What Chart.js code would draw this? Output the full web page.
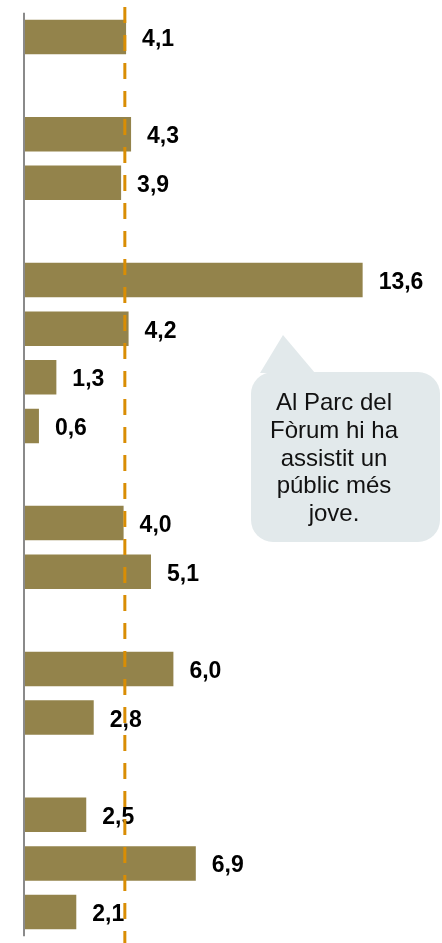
<!DOCTYPE html>
<html lang="ca">
<head>
    <meta charset="UTF-8">
    <title>Públic per edat</title>
    <script src="https://cdn.jsdelivr.net/npm/chart.js"></script>
    <style>
        body { margin: 0; background: #fff; }
        #wrap { position: relative; width: 442px; height: 943px; overflow: hidden; }
        #bubble { position: absolute; left: 251px; top: 372px; width: 189px; height: 170px;
                  background: #e2e9eb; border-radius: 22px; }
        #tip { position: absolute; left: 260px; top: 335px; width: 55px; height: 38px;
               background: #e2e9eb; clip-path: polygon(23px 0, 0 100%, 55px 100%); }
        #bubbleText { position: absolute; left: 251px; top: 388px; width: 166px;
                      font: 24px "Liberation Sans", Arial, sans-serif; line-height: 27.8px;
                      text-align: center; color: #111; }
    </style>
</head>
<body>
<div id="wrap">
    <canvas id="barChart" width="442" height="943"></canvas>
    <div id="tip"></div>
    <div id="bubble"></div>
    <div id="bubbleText">Al Parc del<br>Fòrum hi ha<br>assistit un<br>públic més<br>jove.</div>
</div>

<script>
    // empty slots separate the groups
    const categories = ['g1-a', '', 'g2-a', 'g2-b', '', 'g3-a', 'g3-b', 'g3-c', 'g3-d', '',
                        'g4-a', 'g4-b', '', 'g5-a', 'g5-b', '', 'g6-a', 'g6-b', 'g6-c'];
    const values = [4.1, null, 4.3, 3.9, null, 13.6, 4.2, 1.3, 0.6, null,
                    4.0, 5.1, null, 6.0, 2.8, null, 2.5, 6.9, 2.1];
    const reference = 4.05;

    const fmt = v => v.toFixed(1).replace('.', ',');

    const extras = {
        id: 'extras',
        afterDatasetsDraw(chart) {
            const ctx = chart.ctx;
            const x = chart.scales.x;
            const area = chart.chartArea;
            const meta = chart.getDatasetMeta(0);

            // axis line at zero
            ctx.save();
            ctx.strokeStyle = '#8a8a8a';
            ctx.lineWidth = 2;
            ctx.beginPath();
            ctx.moveTo(x.getPixelForValue(0), area.top);
            ctx.lineTo(x.getPixelForValue(0), area.bottom);
            ctx.stroke();

            // value labels
            ctx.font = 'bold 23px "Liberation Sans", Arial, sans-serif';
            ctx.fillStyle = '#000';
            ctx.textAlign = 'left';
            ctx.textBaseline = 'alphabetic';
            meta.data.forEach((bar, i) => {
                if (values[i] == null) return;
                ctx.fillText(fmt(values[i]), bar.x + 16, bar.y + 9);
            });

            // dashed reference line
            const rx = x.getPixelForValue(reference);
            ctx.strokeStyle = '#d98d04';
            ctx.lineWidth = 3;
            ctx.setLineDash([16, 12]);
            ctx.beginPath();
            ctx.moveTo(rx, 7);
            ctx.lineTo(rx, chart.height);
            ctx.stroke();
            ctx.restore();
        }
    };

    new Chart(document.getElementById('barChart').getContext('2d'), {
        type: 'bar',
        data: {
            labels: categories,
            datasets: [{
                data: values,
                backgroundColor: '#93834b',
                barPercentage: 0.71,
                categoryPercentage: 1
            }]
        },
        options: {
            indexAxis: 'y',
            responsive: false,
            animation: false,
            layout: { padding: { left: 24, right: 19.6, top: 12.7, bottom: 6.7 } },
            plugins: { legend: { display: false }, tooltip: { enabled: false } },
            scales: {
                x: { display: false, min: 0, max: 16 },
                y: { display: false }
            }
        },
        plugins: [extras]
    });
</script>
</body>
</html>
